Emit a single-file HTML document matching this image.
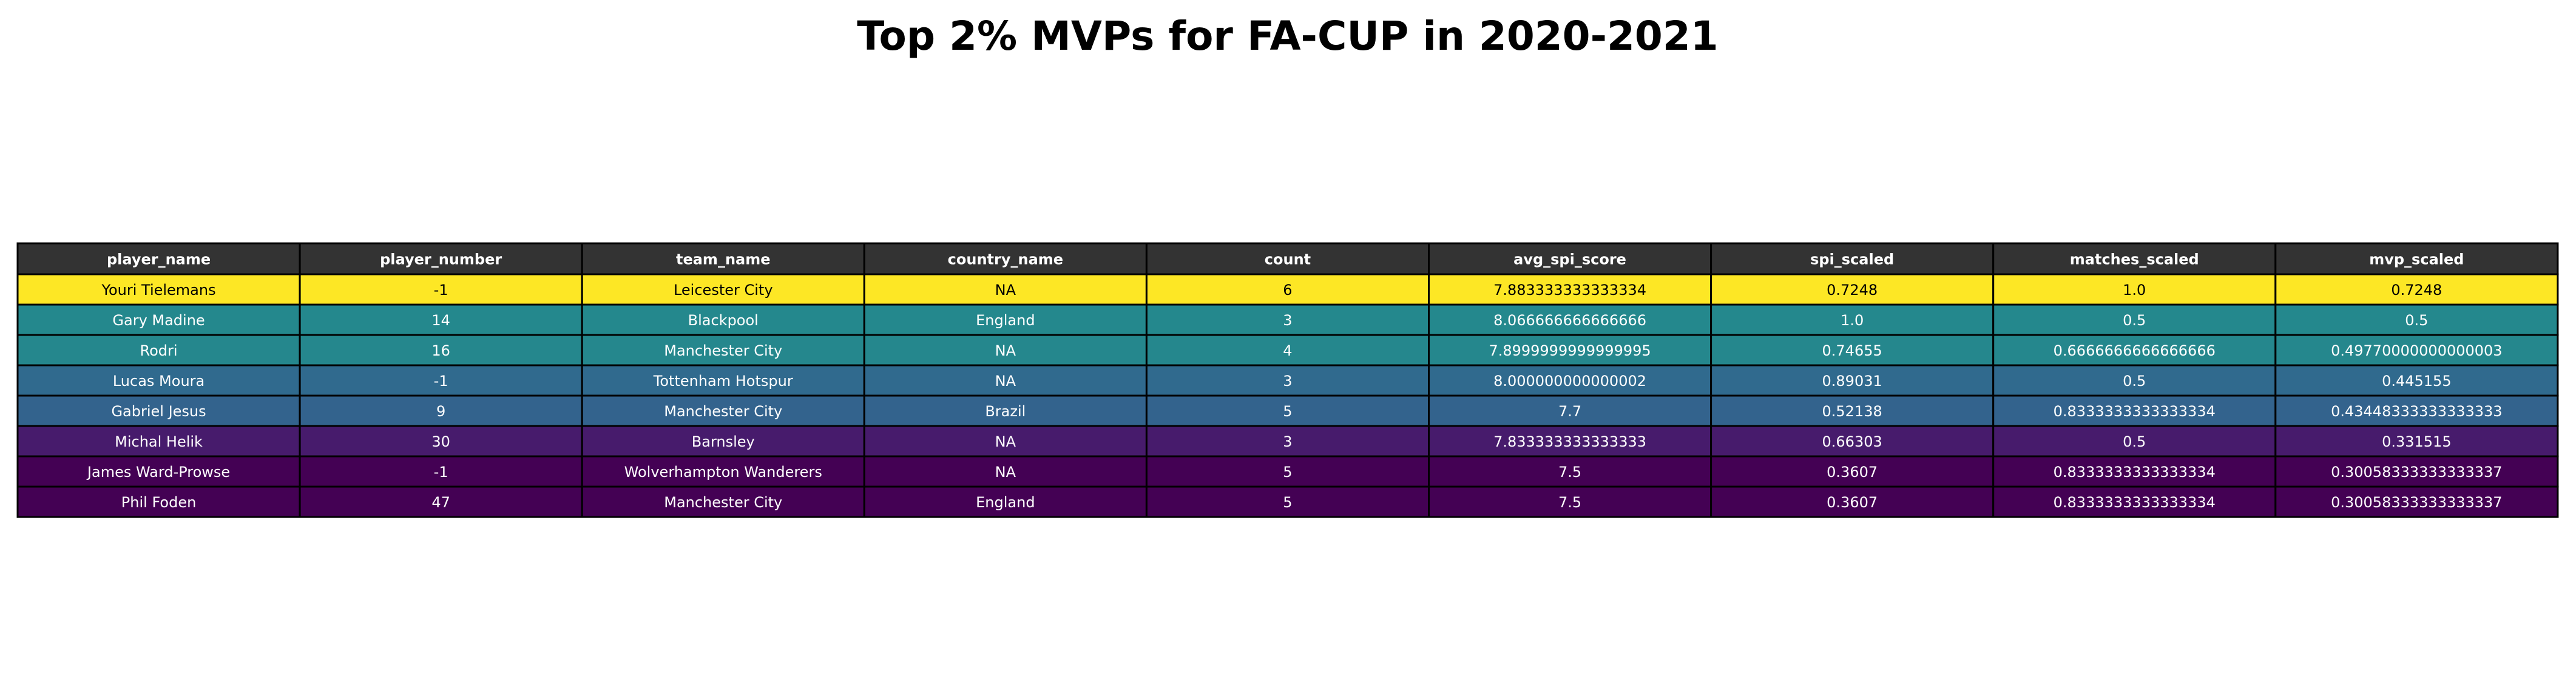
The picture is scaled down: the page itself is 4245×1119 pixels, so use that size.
<!DOCTYPE html>
<html><head><meta charset="utf-8">
<style>
html,body{margin:0;padding:0;background:#fff;width:4245px;height:1119px;overflow:hidden}
svg{display:block}
</style></head>
<body>
<svg id="chart" width="4245" height="1119" xmlns="http://www.w3.org/2000/svg">
<text x="2122" y="82" text-anchor="middle" font-family="DejaVu Sans, sans-serif" font-weight="bold" font-size="66">Top 2% MVPs for FA-CUP in 2020-2021</text>
<g id="tbl"></g>
</svg>
<script>
const columns = ["player_name","player_number","team_name","country_name","count","avg_spi_score","spi_scaled","matches_scaled","mvp_scaled"];
const playerNames = ["Youri Tielemans","Gary Madine","Rodri","Lucas Moura","Gabriel Jesus","Michal Helik","James Ward-Prowse","Phil Foden"];
const playerNumbers = ["-1","14","16","-1","9","30","-1","47"];
const teamNames = ["Leicester City","Blackpool","Manchester City","Tottenham Hotspur","Manchester City","Barnsley","Wolverhampton Wanderers","Manchester City"];
const countryNames = ["NA","England","NA","NA","Brazil","NA","NA","England"];
const counts = ["6","3","4","3","5","3","5","5"];
const avgSpi = ["7.883333333333334","8.066666666666666","7.8999999999999995","8.000000000000002","7.7","7.833333333333333","7.5","7.5"];
const spiScaled = ["0.7248","1.0","0.74655","0.89031","0.52138","0.66303","0.3607","0.3607"];
const matchesScaled = ["1.0","0.5","0.6666666666666666","0.5","0.8333333333333334","0.5","0.8333333333333334","0.8333333333333334"];
const mvpScaled = ["0.7248","0.5","0.49770000000000003","0.445155","0.43448333333333333","0.331515","0.30058333333333337","0.30058333333333337"];

const viridis=[[68,1,84],[72,40,120],[62,74,137],[49,104,142],[38,130,142],[31,158,137],[53,183,121],[109,205,89],[180,222,44],[253,231,37]];
function vcol(t){t=Math.max(0,Math.min(1,t));const p=t*9,i=Math.min(8,Math.floor(p)),f=p-i;const a=viridis[i],b=viridis[i+1];return 'rgb('+a.map((v,k)=>Math.round(v+(b[k]-v)*f)).join(',')+')';}
const g=document.getElementById('tbl');
const NS='http://www.w3.org/2000/svg';
const X0=29,Y0=401,CW=465.1,HH=51,RH=50;
const cols=[playerNames,playerNumbers,teamNames,countryNames,counts,avgSpi,spiScaled,matchesScaled,mvpScaled];
const vals=mvpScaled.map(Number);const mn=Math.min(...vals),mx=Math.max(...vals);
function cell(x,y,w,h,fill,txt,color,bold,name){
  const r=document.createElementNS(NS,'rect');
  r.setAttribute('x',x);r.setAttribute('y',y);r.setAttribute('width',w);r.setAttribute('height',h);
  r.setAttribute('fill',fill);r.setAttribute('stroke','#000');r.setAttribute('stroke-width','3');
  
  
  g.appendChild(r);
  const t=document.createElementNS(NS,'text');
  t.setAttribute('x',x+w/2);t.setAttribute('y',y+h/2+9);t.setAttribute('text-anchor','middle');
  t.setAttribute('font-family','DejaVu Sans, sans-serif');t.setAttribute('font-size','24');
  if(bold)t.setAttribute('font-weight','bold');
  t.setAttribute('fill',color);t.textContent=txt;
  
  
  g.appendChild(t);
}
columns.forEach((c,j)=>cell(X0+j*CW,Y0,CW,HH,'#333333',c,'#fff',true,'header-'+c.replace(/_/g,'-')));
playerNames.forEach((p,i)=>{
  const t=(vals[i]-mn)/(mx-mn);const fill=vcol(t);const tc=t>0.6?'#000':'#fff';
  cols.forEach((arr,j)=>cell(X0+j*CW,Y0+HH+i*RH,CW,RH,fill,arr[i],tc,false,'cell-r'+(i+1)+'-'+columns[j].replace(/_/g,'-')));
});
</script>
</body></html>
